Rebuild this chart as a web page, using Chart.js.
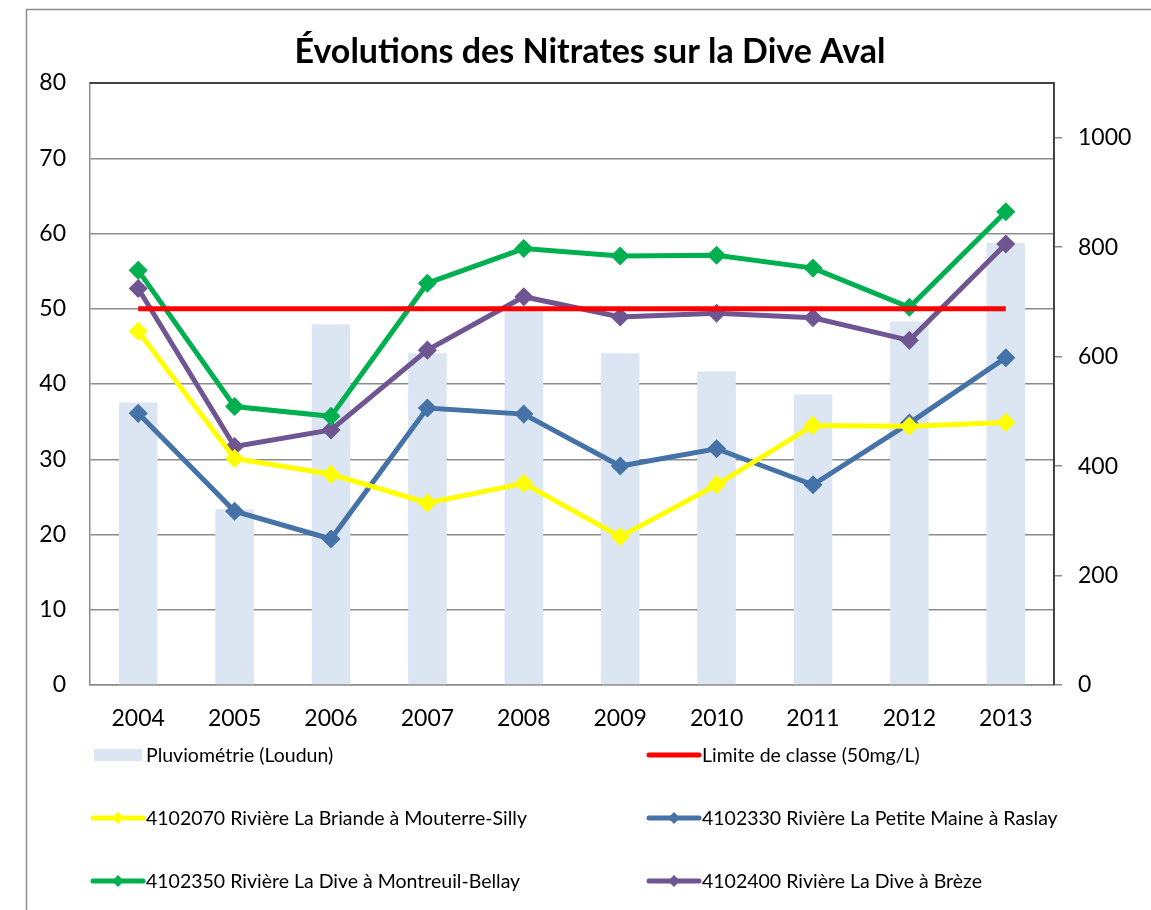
<!DOCTYPE html>
<html>
<head>
<meta charset="utf-8">
<script src="https://cdn.jsdelivr.net/npm/chart.js@4"></script>
<style>
  html, body { margin: 0; padding: 0; background: #fff; }
  #wrap { width: 1151px; height: 910px; position: relative; }
</style>
</head>
<body>
<div id="wrap"><canvas id="nitrates"></canvas></div>
<script>
const years = ['2004', '2005', '2006', '2007', '2008', '2009', '2010', '2011', '2012', '2013'];
const pluvio = [516, 321, 659, 606, 685, 606, 573, 531, 664, 808];
const limite = [50, 50, 50, 50, 50, 50, 50, 50, 50, 50];
const briande = [47.0, 30.1, 28.0, 24.2, 26.8, 19.7, 26.6, 34.5, 34.4, 34.9];
const petiteMaine = [36.1, 23.1, 19.4, 36.8, 36.0, 29.1, 31.4, 26.6, 34.8, 43.5];
const montreuil = [55.1, 37.0, 35.7, 53.4, 58.0, 57.0, 57.1, 55.4, 50.2, 62.9];
const breze = [52.7, 31.7, 33.9, 44.5, 51.6, 48.9, 49.4, 48.8, 45.8, 58.6];
const leftTicks = [0, 10, 20, 30, 40, 50, 60, 70, 80];
const rightTicks = [0, 200, 400, 600, 800, 1000];

const FONT = 'Lato, "Open Sans", sans-serif';

function lineSet(label, data, color, marker) {
    return {
        type: 'line',
        label: label,
        data: data,
        yAxisID: 'y',
        borderColor: color,
        backgroundColor: color,
        borderWidth: 5,
        pointStyle: marker ? 'rectRot' : false,
        pointRadius: marker ? 6 : 0,
        pointHoverRadius: marker ? 6 : 0,
        tension: 0,
        order: 1
    };
}

// frame, title and two-column legend drawn on the canvas
const decorPlugin = {
    id: 'decor',
    beforeDraw(chart) {
        const ctx = chart.ctx;
        ctx.save();
        ctx.strokeStyle = '#8c8c8c';
        ctx.lineWidth = 1.5;
        ctx.beginPath();
        ctx.moveTo(26.5, 910);
        ctx.lineTo(26.5, 9.5);
        ctx.lineTo(1151, 9.5);
        ctx.stroke();
        ctx.restore();
    },
    afterDraw(chart) {
        const ctx = chart.ctx;
        const area = chart.chartArea;
        ctx.save();
        // plot area border (top and right)
        ctx.strokeStyle = '#222';
        ctx.lineWidth = 1.5;
        ctx.beginPath();
        ctx.moveTo(area.left, area.top);
        ctx.lineTo(area.right, area.top);
        ctx.lineTo(area.right, area.bottom);
        ctx.stroke();

        ctx.fillStyle = '#000';
        ctx.font = 'bold 34px ' + FONT;
        ctx.textAlign = 'center';
        ctx.textBaseline = 'middle';
        ctx.fillText('Évolutions des Nitrates sur la Dive Aval', 590, 52);

        const sets = chart.data.datasets;
        const slots = [
            [0, 92, 755], [1, 648, 755],
            [2, 92, 818], [3, 648, 818],
            [4, 92, 881], [5, 648, 881]
        ];
        ctx.font = '19.5px ' + FONT;
        ctx.textAlign = 'left';
        slots.forEach(([i, x, y]) => {
            const ds = sets[i];
            if (ds.type === 'bar') {
                ctx.fillStyle = ds.backgroundColor;
                ctx.fillRect(x + 2, y - 6, 48, 12);
            } else {
                ctx.strokeStyle = ds.borderColor;
                ctx.lineWidth = 5;
                ctx.lineCap = 'round';
                ctx.beginPath();
                ctx.moveTo(x + 1, y);
                ctx.lineTo(x + 51, y);
                ctx.stroke();
                if (ds.pointStyle) {
                    ctx.fillStyle = ds.borderColor;
                    ctx.beginPath();
                    ctx.moveTo(x + 26, y - 6);
                    ctx.lineTo(x + 32, y);
                    ctx.lineTo(x + 26, y + 6);
                    ctx.lineTo(x + 20, y);
                    ctx.closePath();
                    ctx.fill();
                }
            }
            ctx.fillStyle = '#000';
            ctx.fillText(ds.label, x + 54, y + 1);
        });
        ctx.restore();
    }
};

new Chart(document.getElementById('nitrates'), {
    data: {
        labels: years,
        datasets: [
            {
                type: 'bar',
                label: 'Pluviométrie (Loudun)',
                data: pluvio,
                yAxisID: 'y1',
                backgroundColor: '#dce6f2',
                barPercentage: 0.4,
                categoryPercentage: 1,
                order: 10
            },
            lineSet('Limite de classe (50mg/L)', limite, '#ff0000', false),
            lineSet('4102070 Rivière La Briande à Mouterre-Silly', briande, '#ffff00', true),
            lineSet('4102330 Rivière La Petite Maine à Raslay', petiteMaine, '#4572a7', true),
            lineSet('4102350 Rivière La Dive à Montreuil-Bellay', montreuil, '#00b050', true),
            lineSet('4102400 Rivière La Dive à Brèze', breze, '#6f5592', true)
        ]
    },
    options: {
        responsive: true,
        maintainAspectRatio: false,
        animation: false,
        layout: { padding: { top: 83, left: 0, right: 0, bottom: 0 } },
        plugins: {
            legend: { display: false },
            title: { display: false },
            tooltip: { enabled: false }
        },
        scales: {
            x: {
                grid: { display: false },
                border: { color: '#8c8c8c', width: 1.5 },
                ticks: { color: '#000', font: { family: FONT, size: 23 }, padding: 12 },
                afterFit(scale) { scale.height = 225; }
            },
            y: {
                position: 'left',
                min: 0,
                max: 80,
                afterBuildTicks(scale) { scale.ticks = leftTicks.map(v => ({ value: v })); },
                grid: { color: '#8c8c8c', lineWidth: 1.5, drawTicks: false },
                border: { color: '#8c8c8c', width: 1.5 },
                ticks: { color: '#000', font: { family: FONT, size: 23 }, padding: 24 },
                afterFit(scale) { scale.width = 90; }
            },
            y1: {
                position: 'right',
                min: 0,
                max: 1100,
                afterBuildTicks(scale) { scale.ticks = rightTicks.map(v => ({ value: v })); },
                grid: { drawOnChartArea: false, color: '#8c8c8c', lineWidth: 1.5, tickLength: 8 },
                border: { color: '#8c8c8c', width: 1.5 },
                ticks: {
                    color: '#000',
                    font: { family: FONT, size: 23 },
                    padding: 16,
                    callback: v => String(v)
                },
                afterFit(scale) { scale.width = 97; }
            }
        }
    },
    plugins: [decorPlugin]
});
</script>
</body>
</html>
